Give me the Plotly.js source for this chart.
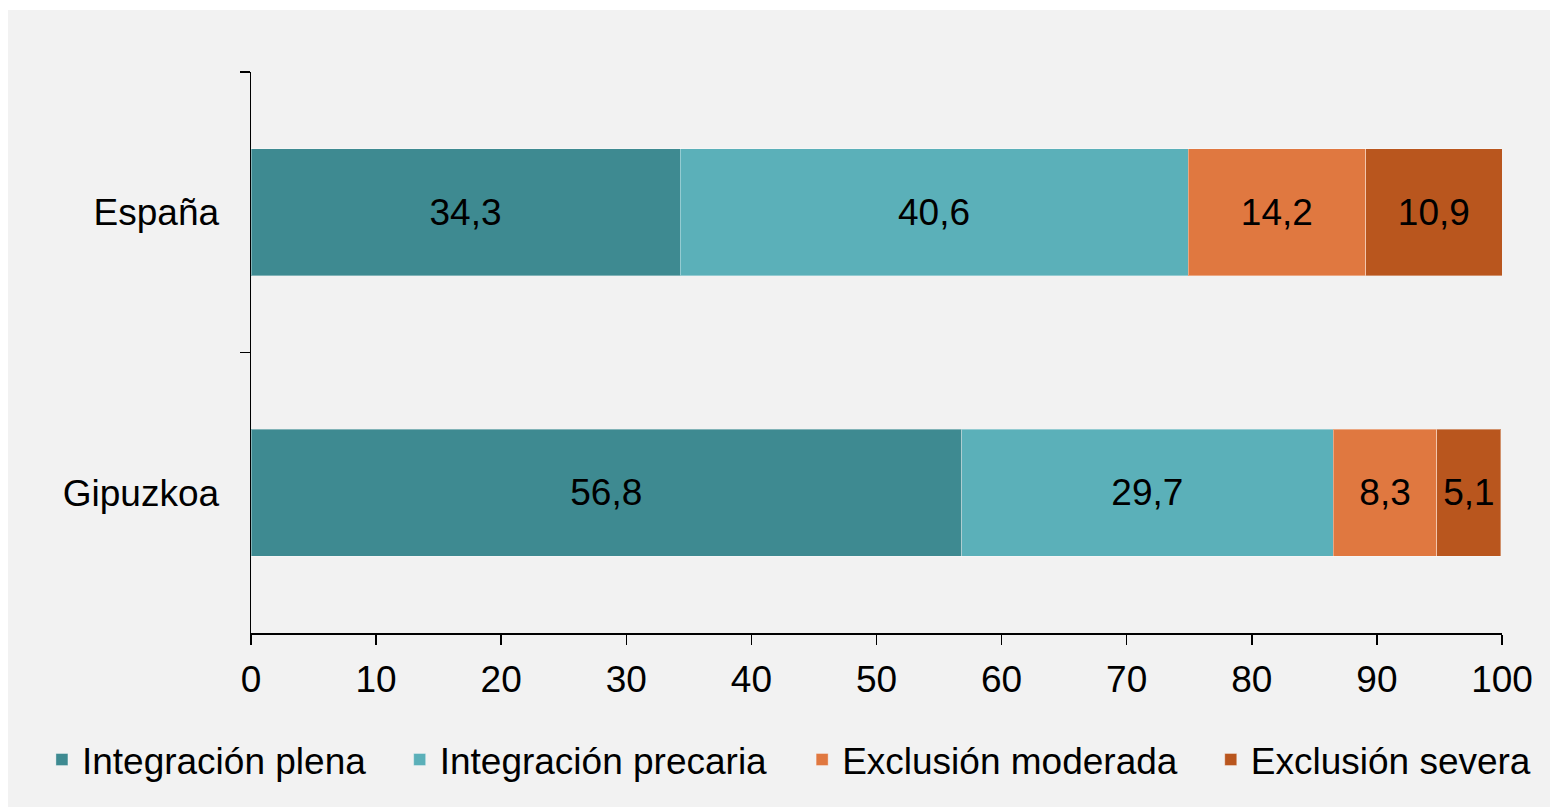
<!DOCTYPE html>
<html>
<head>
<meta charset="utf-8">
<script src="https://cdn.plot.ly/plotly-3.0.1.min.js"></script>
<style>
  html, body { margin: 0; padding: 0; background: #ffffff; width: 1550px; height: 807px; overflow: hidden; }
  #chart { position: absolute; left: 8px; top: 10px; width: 1542px; height: 797px; }
</style>
</head>
<body>
<div id="chart"></div>
<script>
const categories = ["España", "Gipuzkoa"];
const seriesNames = ["Integración plena", "Integración precaria", "Exclusión moderada", "Exclusión severa"];
const integracionPlena = [34.3, 56.8];
const integracionPrecaria = [40.6, 29.7];
const exclusionModerada = [14.2, 8.3];
const exclusionSevera = [10.9, 5.1];
const xTicks = [0, 10, 20, 30, 40, 50, 60, 70, 80, 90, 100];

const seriesValues = [integracionPlena, integracionPrecaria, exclusionModerada, exclusionSevera];
const colors = ["#3e8a91", "#5bb0b9", "#e07840", "#b9561e"];
const legendIds = ["legend", "legend2", "legend3", "legend4"];
const legendX = [0.022, 0.254, 0.515, 0.780];

const FONT = '"Liberation Sans", Arial, sans-serif';
const FS = 37;

const traces = seriesValues.map((vals, i) => ({
  type: "bar",
  orientation: "h",
  name: seriesNames[i],
  y: categories,
  x: vals,
  text: vals.map(v => v.toFixed(1).replace(".", ",")),
  textposition: "inside",
  insidetextanchor: "middle",
  textfont: { family: FONT, size: FS, color: "#000000" },
  marker: { color: colors[i], line: { color: "rgba(255,255,255,0.35)", width: 1 } },
  legend: legendIds[i],
  hoverinfo: "none"
}));

const layout = {
  barmode: "stack",
  bargap: 0.547,
  paper_bgcolor: "#f2f2f2",
  plot_bgcolor: "#f2f2f2",
  font: { family: FONT, size: FS, color: "#000000" },
  margin: { l: 243, r: 48, t: 62, b: 174, pad: 0 },
  xaxis: {
    range: [0, 100],
    tickvals: xTicks,
    ticktext: xTicks.map(String),
    showgrid: false,
    zeroline: false,
    showline: true,
    linecolor: "#000000",
    linewidth: 1.5,
    ticks: "outside",
    ticklen: 10,
    tickwidth: 1.5,
    tickcolor: "#000000",
    ticklabelstandoff: 3,
    tickfont: { family: FONT, size: FS, color: "#000000" },
    fixedrange: true
  },
  yaxis: {
    type: "category",
    categoryorder: "array",
    categoryarray: categories,
    range: [1.5, -0.5],
    showgrid: false,
    zeroline: false,
    showline: true,
    linecolor: "#000000",
    linewidth: 1.5,
    ticks: "outside",
    tickson: "boundaries",
    ticklen: 10,
    tickwidth: 1.5,
    tickcolor: "#000000",
    ticklabelstandoff: 23,
    tickfont: { family: FONT, size: FS, color: "#000000" },
    fixedrange: true
  },
  showlegend: true
};

legendIds.forEach((id, i) => {
  layout[id] = {
    x: legendX[i],
    y: 0.059,
    xref: "container",
    yref: "container",
    xanchor: "left",
    yanchor: "middle",
    orientation: "h",
    bgcolor: "rgba(0,0,0,0)",
    borderwidth: 0,
    font: { family: FONT, size: FS, color: "#000000" }
  };
});

Plotly.newPlot("chart", traces, layout, { displayModeBar: false, staticPlot: true });
</script>
</body>
</html>
